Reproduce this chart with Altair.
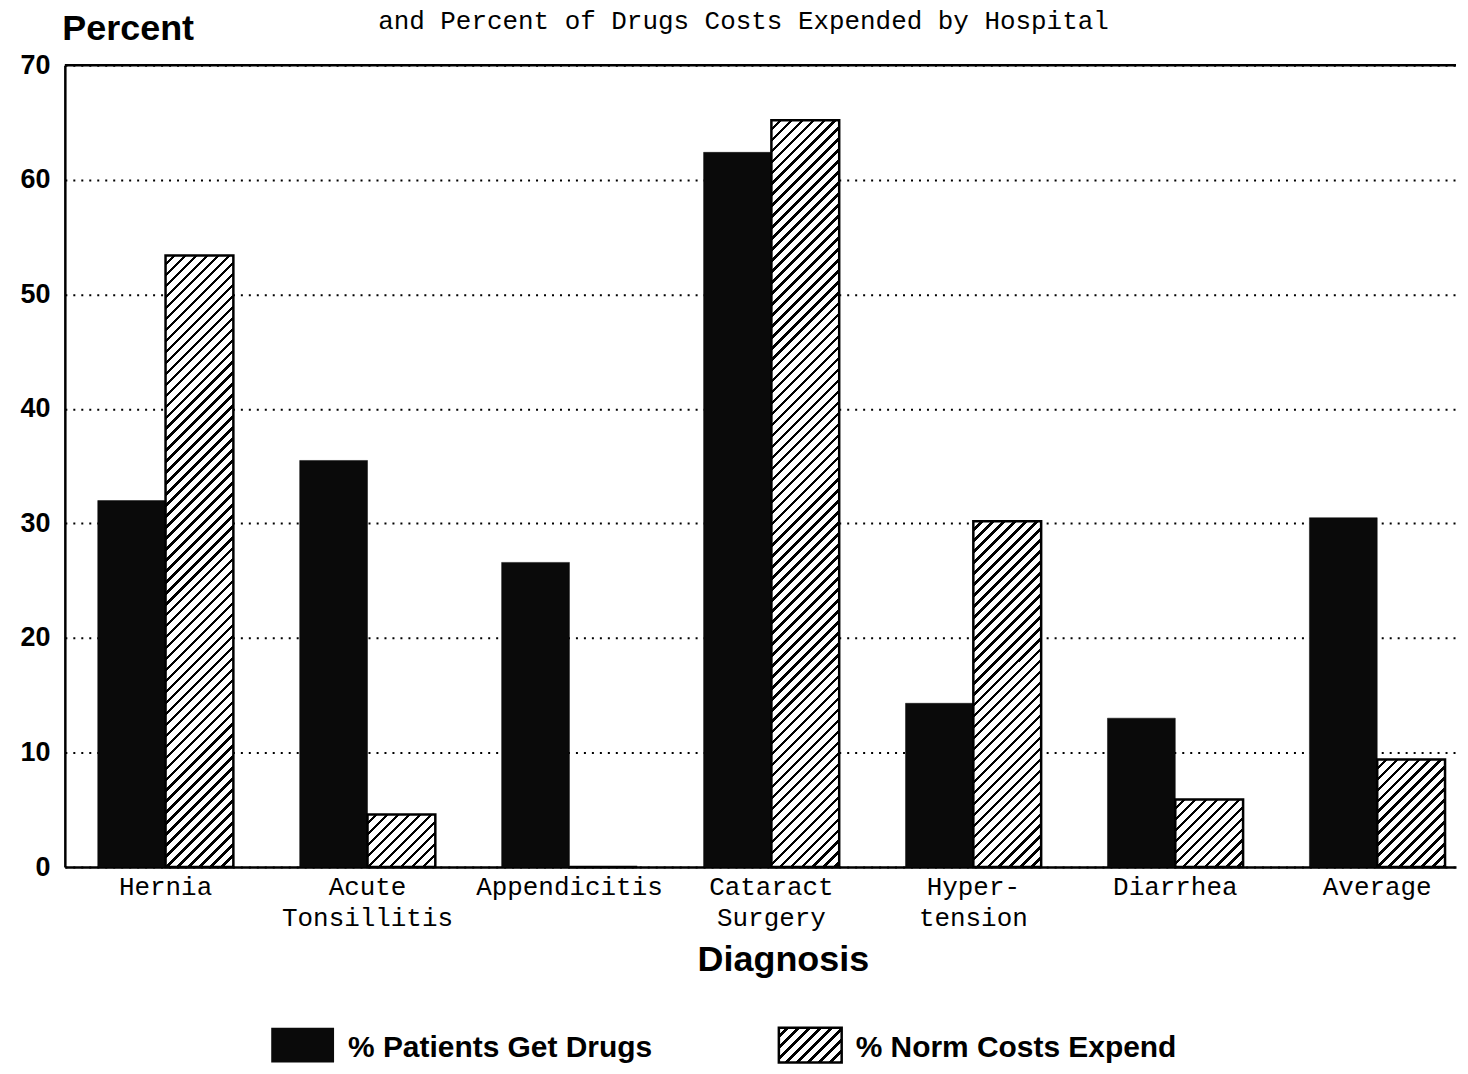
import altair as alt
import pandas as pd

# ---------------- data ----------------
categories = ["Hernia", "Acute Tonsillitis", "Appendicitis", "Cataract Surgery",
              "Hyper-tension", "Diarrhea", "Average"]
series_names = ["% Patients Get Drugs", "% Norm Costs Expend"]
patients_get_drugs = [32.0, 35.5, 26.6, 62.4, 14.3, 13.0, 30.5]
norm_costs_expend = [53.4, 4.6, 0.0, 65.2, 30.2, 5.9, 9.4]
y_ticks = [0, 10, 20, 30, 40, 50, 60, 70]
title_line = "and Percent of Drugs Costs Expended by Hospital"
y_title = "Percent"
x_title = "Diagnosis"

# ---------------- layout / style ----------------
W, H = 1395, 804
Y_MAX = 70
PAD_INNER = 0.3284
PAD_OUTER = 0.1086
ALIGN = 0.75

rows = []
for c, a, b in zip(categories, patients_get_drugs, norm_costs_expend):
    rows.append({"category": c, "series": series_names[0], "value": a})
    rows.append({"category": c, "series": series_names[1], "value": b})
df = pd.DataFrame(rows)

step = W / (len(categories) - PAD_INNER + 2 * PAD_OUTER)
bandwidth = step * (1 - PAD_INNER)
sub_w = bandwidth / 2
px_per_unit = H / Y_MAX


def hatch(w, h, period=11.0, frac=0.32):
    """Diagonal '////' hatching built from a hard-stop linear gradient."""
    L = w + h
    d = w * w + h * h
    A = w * L / d
    B = h * L / d
    n = L / period
    stops = []
    k = 0
    while k < n:
        s = k / n
        m = min((k + 1 - frac) / n, 1.0)
        e = min((k + 1) / n, 1.0)
        stops += [(s, "white"), (m, "white"), (m, "black"), (e, "black")]
        k += 1
    return alt.LinearGradient(
        gradient="linear",
        stops=[alt.GradientStop(color=col, offset=round(o, 5)) for o, col in stops],
        x1=0, y1=0, x2=round(A, 5), y2=round(B, 5),
    )


x_axis = alt.Axis(
    title=x_title,
    labelExpr="split(replace(datum.label, '-', '- '), ' ')",
    labelFont="Liberation Mono", labelFontSize=26, labelColor="black",
    labelAngle=0, labelPadding=6, labelLineHeight=32, labelOverlap=False,
    labelBound=False, labelLimit=500,
    ticks=False, domainColor="black", domainWidth=2.5, grid=False,
    titleFont="Liberation Sans", titleFontSize=36, titleFontWeight="bold",
    titleColor="black", titleX=720, titleY=104, titleAlign="center",
    titleBaseline="alphabetic",
)
y_axis = alt.Axis(
    title=y_title, values=y_ticks,
    labelFont="Liberation Sans", labelFontWeight="bold", labelFontSize=27,
    labelColor="black", labelPadding=15, ticks=False,
    domainColor="black", domainWidth=2.5,
    grid=True, gridColor="black", gridDash=[2, 6], gridWidth=2, gridOpacity=1,
    titleAngle=0, titleX=-3, titleY=-26, titleAlign="left",
    titleBaseline="alphabetic", titleFont="Liberation Sans", titleFontSize=36,
    titleFontWeight="bold", titleColor="black",
)

x_enc = alt.X("category:N",
              scale=alt.Scale(domain=categories, paddingInner=PAD_INNER,
                              paddingOuter=PAD_OUTER, align=ALIGN),
              axis=x_axis)
xoff_enc = alt.XOffset("series:N",
                       scale=alt.Scale(domain=series_names, paddingInner=0,
                                       paddingOuter=0))
y_enc = alt.Y("value:Q", scale=alt.Scale(domain=[0, Y_MAX], nice=False),
              axis=y_axis)

no_view = alt.ViewBackground(stroke="transparent", strokeWidth=0)

black_bars = (
    alt.Chart(df)
    .transform_filter(alt.datum.series == series_names[0])
    .mark_bar(fill="#0a0a0a", stroke="#0a0a0a", strokeWidth=0.5)
    .encode(x=x_enc, xOffset=xoff_enc, y=y_enc)
)

hatched_layers = []
for c, v in zip(categories, norm_costs_expend):
    hatched_layers.append(
        alt.Chart(df)
        .transform_filter((alt.datum.series == series_names[1]) & (alt.datum.category == c))
        .mark_bar(fill=hatch(sub_w, max(v * px_per_unit, 1.0)), stroke="black",
                  strokeWidth=2.5)
        .encode(x=x_enc, xOffset=xoff_enc, y=y_enc)
    )

top_rule = (
    alt.Chart(pd.DataFrame({"value": [Y_MAX]}))
    .mark_rule(color="black", strokeWidth=2.5)
    .encode(y=y_enc)
)

main = alt.layer(black_bars, *hatched_layers, top_rule).properties(view=no_view)

# ---------------- legend (own band scale) ----------------
legend_df = pd.DataFrame({"series": series_names})
LEG_W, LEG_H = 63, 35
lx = alt.X("series:N",
           scale=alt.Scale(domain=series_names, paddingInner=0,
                           paddingOuter=0.3703, align=0.549),
           axis=None)
leg_step = W / (2 + 2 * 0.3703)
sq_off = LEG_W / 2 - leg_step / 2
txt_off = 77 - leg_step / 2
leg_top = H + 161
leg_black = (
    alt.Chart(legend_df)
    .transform_filter(alt.datum.series == series_names[0])
    .mark_bar(width=LEG_W, xOffset=sq_off, fill="#0a0a0a")
    .encode(x=lx, y=alt.value(leg_top), y2=alt.value(leg_top + LEG_H))
)
leg_hatch = (
    alt.Chart(legend_df)
    .transform_filter(alt.datum.series == series_names[1])
    .mark_bar(width=LEG_W, xOffset=sq_off, fill=hatch(LEG_W, LEG_H),
              stroke="black", strokeWidth=2.5)
    .encode(x=lx, y=alt.value(leg_top), y2=alt.value(leg_top + LEG_H))
)
leg_text = (
    alt.Chart(legend_df)
    .mark_text(align="left", baseline="alphabetic", dx=txt_off,
               font="Liberation Sans", fontWeight="bold", fontSize=30,
               color="black")
    .encode(x=lx, y=alt.value(leg_top + 29), text="series:N")
)
legend = alt.layer(leg_black, leg_hatch, leg_text).properties(view=no_view)

chart = (
    alt.layer(main, legend)
    .resolve_scale(x="independent")
    .properties(
        width=W, height=H,
        view=no_view,
        title=alt.TitleParams(text=title_line, font="Liberation Mono",
                              fontSize=26, fontWeight="normal", color="black",
                              anchor="middle", frame="group", dx=-17, dy=45,
                              offset=0, baseline="alphabetic"),
        autosize=alt.AutoSizeParams(type="none"),
        padding={"left": 57, "top": 56, "right": 4, "bottom": 198},
    )
    .configure_view(stroke="transparent", strokeWidth=0)
    .configure(background="white")
)

chart.save("out.html", embed_options={"renderer": "svg", "actions": False})
